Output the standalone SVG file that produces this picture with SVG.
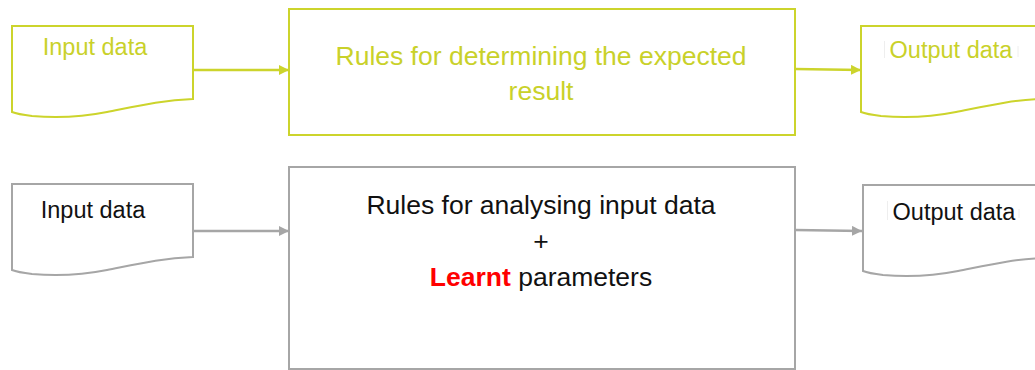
<svg xmlns="http://www.w3.org/2000/svg" width="1035" height="370" viewBox="0 0 1035 370">
  <style>
    .lime { stroke: #CCD42C; fill: #FFFFFF; stroke-width: 2; }
    .grey { stroke: #A6A6A6; fill: #FFFFFF; stroke-width: 2; }
    .t { font-family: "Liberation Sans", Arial, sans-serif; text-anchor: middle; }
    .t-lime { fill: #C9D12A; }
    .t-dark { fill: #111111; }
    .link-lime { stroke: #CCD42C; stroke-width: 2.5; fill: none; }
    .link-grey { stroke: #A6A6A6; stroke-width: 2.5; fill: none; }
    .tick { stroke: #EEEEEE; stroke-width: 1; }
  </style>
  <defs>
    <!-- document shape: flat top, wavy bottom -->
    <path id="doc" d="M0,0 H181 V73 C150,74 125,80 95,86 C70,91 45,92 20,90 C12,89 5,88 0,86 Z"/>
    <marker id="head-lime" viewBox="0 0 10 10" refX="10" refY="5" markerWidth="4" markerHeight="4" orient="auto" markerUnits="strokeWidth">
      <path d="M0,0 L10,5 L0,10 Z" fill="#CCD42C"/>
    </marker>
    <marker id="head-grey" viewBox="0 0 10 10" refX="10" refY="5" markerWidth="4" markerHeight="4" orient="auto" markerUnits="strokeWidth">
      <path d="M0,0 L10,5 L0,10 Z" fill="#A6A6A6"/>
    </marker>
  </defs>

  <!-- connectors -->
  <g id="connectors">
    <line class="link-lime" x1="193" y1="70" x2="289" y2="70" marker-end="url(#head-lime)"/>
    <line class="link-lime" x1="795" y1="69" x2="861" y2="70" marker-end="url(#head-lime)"/>
    <line class="link-grey" x1="193" y1="231" x2="289" y2="231" marker-end="url(#head-grey)"/>
    <line class="link-grey" x1="795" y1="230" x2="862" y2="231" marker-end="url(#head-grey)"/>
  </g>

  <!-- conventional program -->
  <g id="input-top">
    <use href="#doc" class="lime" transform="translate(12,26)"/>
    <text class="t t-lime" x="95" y="55" font-size="23.5">Input data</text>
  </g>
  <g id="rules-top">
    <rect class="lime" x="289" y="9" width="506" height="126"/>
    <text class="t t-lime" x="541" y="65" font-size="26.5">Rules for determining the expected</text>
    <text class="t t-lime" x="541" y="100" font-size="26.5">result</text>
  </g>
  <g id="output-top">
    <use href="#doc" class="lime" transform="translate(861,26)"/>
    <line class="tick" x1="884.5" y1="41" x2="884.5" y2="58"/>
    <line class="tick" x1="1018" y1="46" x2="1018" y2="57" stroke="#E8EBB8"/>
    <text class="t t-lime" x="951" y="58" font-size="23.5">Output data</text>
  </g>

  <!-- learning program -->
  <g id="input-bottom">
    <use href="#doc" class="grey" transform="translate(12,184)"/>
    <text class="t t-dark" x="93" y="218" font-size="23.5">Input data</text>
  </g>
  <g id="rules-bottom">
    <rect class="grey" x="289" y="167" width="506" height="202"/>
    <text class="t t-dark" x="541" y="214" font-size="26.5">Rules for analysing input data</text>
    <text class="t t-dark" x="541" y="250" font-size="26.5">+</text>
    <text class="t t-dark" x="541" y="286" font-size="26.5"><tspan fill="#FF0000" font-weight="bold">Learnt</tspan> parameters</text>
  </g>
  <g id="output-bottom">
    <use href="#doc" class="grey" transform="translate(863,185)"/>
    <line class="tick" x1="887.5" y1="201" x2="887.5" y2="220"/>
    <line class="tick" x1="1019" y1="209" x2="1019" y2="218" stroke="#DDDDDD"/>
    <text class="t t-dark" x="954" y="220" font-size="23.5">Output data</text>
  </g>
</svg>
